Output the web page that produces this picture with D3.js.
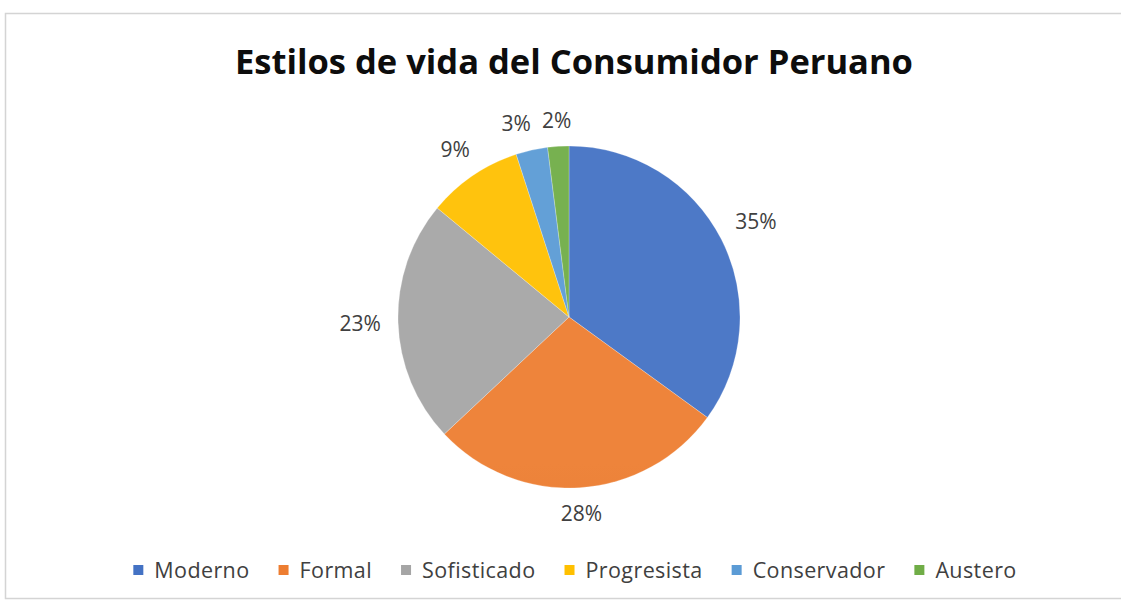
<!DOCTYPE html>
<html>
<head>
<meta charset="utf-8">
<script src="https://cdn.jsdelivr.net/npm/d3@7"></script>
<style>
  html, body { margin: 0; padding: 0; background: #ffffff; }
  svg { display: block; }
</style>
</head>
<body>
<svg id="chart" width="1121" height="601"></svg>
<script>
// Estilos de vida del consumidor peruano — share of each lifestyle (%)
const categories = ["Moderno", "Formal", "Sofisticado", "Progresista", "Conservador", "Austero"];
const shares = [35, 28, 23, 9, 3, 2];
const sliceColors = ["#4472C4", "#ED7D31", "#A5A5A5", "#FFC000", "#5B9BD5", "#70AD47"];
const title = "Estilos de vida del Consumidor Peruano";

const W = 1121, H = 601;
const cx = 569, cy = 317, R = 171;
const FONT = "'Open Sans', Lato, sans-serif";

const svg = d3.select("#chart");

// chart frame
svg.append("rect")
  .attr("x", 5.5).attr("y", 13.5)
  .attr("width", W + 10).attr("height", 585)
  .attr("fill", "#ffffff")
  .attr("stroke", "#d4d4d4")
  .attr("stroke-width", 1.5);

// title
svg.append("text")
  .attr("x", 574).attr("y", 74)
  .attr("text-anchor", "middle")
  .attr("font-family", FONT)
  .attr("font-weight", 700)
  .attr("font-size", 34.5)
  .attr("fill", "#0d0d0d")
  .text(title);

// vertical gradients, slightly lighter at the top of the pie
const defs = svg.append("defs");
const color = d3.scaleOrdinal().domain(categories).range(sliceColors);
categories.forEach((c, i) => {
  const base = d3.color(color(c));
  const g = defs.append("linearGradient")
    .attr("id", "grad" + i)
    .attr("gradientUnits", "userSpaceOnUse")
    .attr("x1", 0).attr("y1", cy - R)
    .attr("x2", 0).attr("y2", cy + R);
  g.append("stop").attr("offset", "0%").attr("stop-color", d3.interpolateRgb(base, "#ffffff")(0.05));
  g.append("stop").attr("offset", "100%").attr("stop-color", base.darker(0.28));
});

const pie = d3.pie().sort(null).value(d => d);
const arcs = pie(shares);
const arc = d3.arc().innerRadius(0).outerRadius(R);

const gPie = svg.append("g").attr("transform", `translate(${cx},${cy})`);
gPie.selectAll("path")
  .data(arcs)
  .join("path")
  .attr("d", arc)
  .attr("fill", (d, i) => `url(#grad${i})`)
  .attr("stroke", "#ffffff")
  .attr("stroke-opacity", 0.4)
  .attr("stroke-width", 0.6);

// data labels placed just outside each slice
const labelFont = 21, capHalf = 7.5, gap = 17;
const labels = svg.append("g")
  .attr("font-family", FONT)
  .attr("font-size", labelFont)
  .attr("fill", "#404040")
  .attr("text-anchor", "middle");

const placed = arcs.map((d, i) => {
  const t = labels.append("text").text(d.data + "%");
  const w = t.node().getComputedTextLength();
  const a = (d.startAngle + d.endAngle) / 2;
  const s = Math.sin(a), c = Math.cos(a);
  const dist = R + gap + Math.abs(s) * w / 2 + Math.abs(c) * capHalf;
  return { t, w, x: cx + dist * s, y: cy - dist * c };
});

// keep neighbouring small-slice labels from touching
for (let i = placed.length - 1; i > 0; i--) {
  const a = placed[i - 1], b = placed[i];
  if (Math.abs(a.y - b.y) < 2 * capHalf + 4) {
    const minGap = 11;
    const overlap = (a.x + a.w / 2 + minGap) - (b.x - b.w / 2);
    if (overlap > 0) a.x -= overlap;
  }
}
placed.forEach(p => p.t.attr("x", p.x).attr("y", p.y + capHalf));

// legend
const legend = svg.append("g")
  .attr("font-family", FONT)
  .attr("font-size", 21.5)
  .attr("letter-spacing", 0.4)
  .attr("fill", "#404040");

const sw = 10, swGap = 11, itemGap = 29, legendY = 570;
const items = categories.map((c, i) => {
  const g = legend.append("g");
  g.append("rect").attr("width", sw).attr("height", sw).attr("y", legendY - sw / 2)
    .attr("fill", color(c));
  const t = g.append("text").attr("x", sw + swGap).attr("y", legendY + 7.5).text(c);
  return { g, w: sw + swGap + t.node().getComputedTextLength() };
});
const total = d3.sum(items, d => d.w) + itemGap * (items.length - 1);
let x0 = 575 - total / 2;
items.forEach(it => {
  it.g.attr("transform", `translate(${x0},0)`);
  x0 += it.w + itemGap;
});
</script>
</body>
</html>
